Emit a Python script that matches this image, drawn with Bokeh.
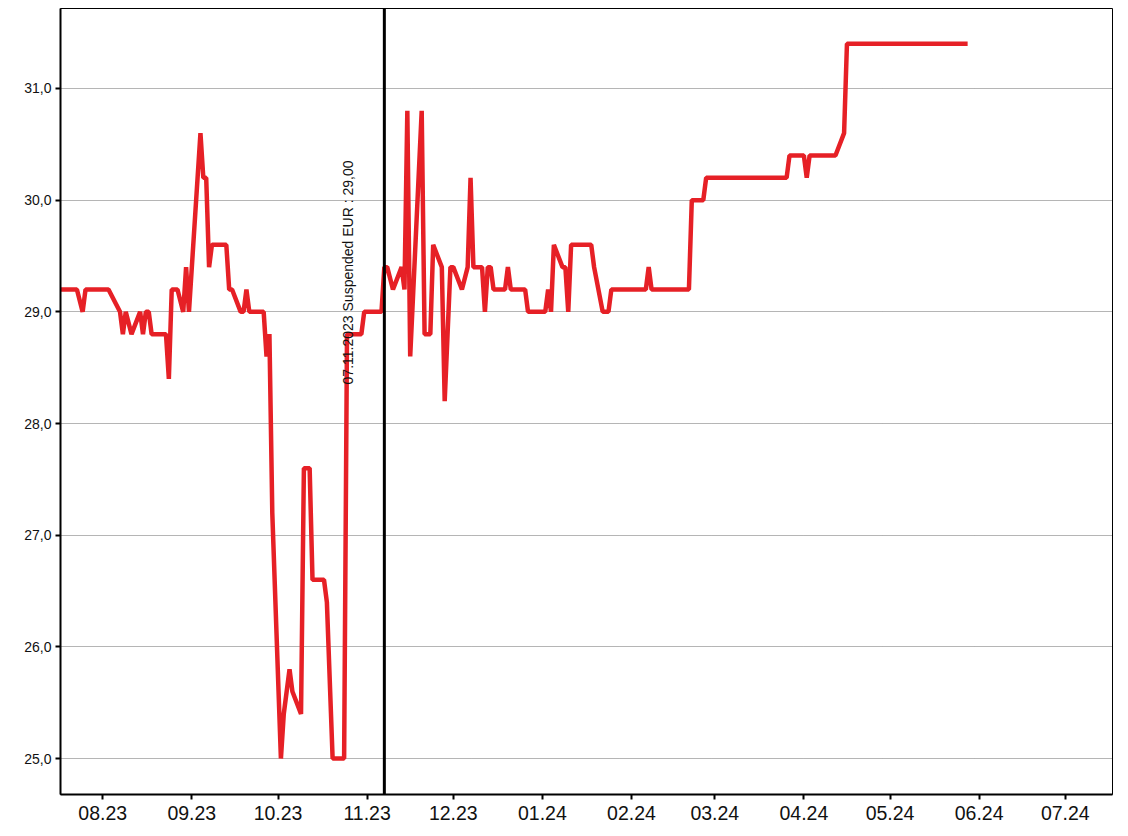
import math
import pandas as pd
from bokeh.plotting import figure
from bokeh.models import (Range1d, FixedTicker, Span, Label, DatetimeTickFormatter,
                          CustomJSTickFormatter, ColumnDataSource)
from bokeh.embed import file_html
from bokeh.resources import INLINE

# ---- data ----
dates = [
    "2023-07-17", "2023-07-23", "2023-07-25", "2023-07-26", "2023-08-03", "2023-08-07",
    "2023-08-08", "2023-08-09", "2023-08-11", "2023-08-14", "2023-08-15", "2023-08-16",
    "2023-08-17", "2023-08-18", "2023-08-23", "2023-08-24", "2023-08-25", "2023-08-27",
    "2023-08-29", "2023-08-30", "2023-08-31", "2023-09-04", "2023-09-05", "2023-09-06",
    "2023-09-07", "2023-09-08", "2023-09-13", "2023-09-14", "2023-09-15", "2023-09-18",
    "2023-09-19", "2023-09-20", "2023-09-21", "2023-09-26", "2023-09-27", "2023-09-28",
    "2023-09-29", "2023-10-02", "2023-10-03", "2023-10-05", "2023-10-06", "2023-10-09",
    "2023-10-10", "2023-10-12", "2023-10-13", "2023-10-17", "2023-10-18", "2023-10-20",
    "2023-10-24", "2023-10-25", "2023-10-30", "2023-10-31", "2023-11-06", "2023-11-07",
    "2023-11-08", "2023-11-10", "2023-11-13", "2023-11-14", "2023-11-15", "2023-11-16",
    "2023-11-20", "2023-11-21", "2023-11-23", "2023-11-24", "2023-11-27", "2023-11-28",
    "2023-11-30", "2023-12-01", "2023-12-04", "2023-12-06", "2023-12-07", "2023-12-08",
    "2023-12-11", "2023-12-12", "2023-12-13", "2023-12-14", "2023-12-15", "2023-12-19",
    "2023-12-20", "2023-12-21", "2023-12-26", "2023-12-27", "2024-01-02", "2024-01-03",
    "2024-01-04", "2024-01-05", "2024-01-08", "2024-01-09", "2024-01-10", "2024-01-11",
    "2024-01-18", "2024-01-19", "2024-01-22", "2024-01-24", "2024-01-25", "2024-02-06",
    "2024-02-07", "2024-02-08", "2024-02-21", "2024-02-22", "2024-02-26", "2024-02-27",
    "2024-03-26", "2024-03-27", "2024-04-01", "2024-04-02", "2024-04-03", "2024-04-12",
    "2024-04-15", "2024-04-16", "2024-05-28",
]
prices = [
    29.2, 29.2, 29.0, 29.2, 29.2, 29.0,
    28.8, 29.0, 28.8, 29.0, 28.8, 29.0,
    29.0, 28.8, 28.8, 28.4, 29.2, 29.2,
    29.0, 29.4, 29.0, 30.6, 30.2, 30.2,
    29.4, 29.6, 29.6, 29.2, 29.2, 29.0,
    29.0, 29.2, 29.0, 29.0, 28.6, 28.8,
    27.2, 25.0, 25.4, 25.8, 25.6, 25.4,
    27.6, 27.6, 26.6, 26.6, 26.4, 25.0,
    25.0, 28.8, 28.8, 29.0, 29.0, 29.4,
    29.4, 29.2, 29.4, 29.2, 30.8, 28.6,
    30.8, 28.8, 28.8, 29.6, 29.4, 28.2,
    29.4, 29.4, 29.2, 29.4, 30.2, 29.4,
    29.4, 29.0, 29.4, 29.4, 29.2, 29.2,
    29.4, 29.2, 29.2, 29.0, 29.0, 29.2,
    29.0, 29.6, 29.4, 29.4, 29.0, 29.6,
    29.6, 29.4, 29.0, 29.0, 29.2, 29.2,
    29.4, 29.2, 29.2, 30.0, 30.0, 30.2,
    30.2, 30.4, 30.4, 30.2, 30.4, 30.4,
    30.6, 31.4, 31.4,
]
y_ticks = [25, 26, 27, 28, 29, 30, 31]
month_ticks = ["2023-08-01", "2023-09-01", "2023-10-01", "2023-11-01", "2023-12-01",
               "2024-01-01", "2024-02-01", "2024-03-01", "2024-04-01", "2024-05-01",
               "2024-06-01", "2024-07-01"]
event_date = "2023-11-07"
event_text = "07.11.2023 Suspended EUR : 29,00"
x_start, x_end = "2023-07-17 07:00", "2024-07-17 10:00"
y_start, y_end = 24.678, 31.716


def ms(d):
    return pd.Timestamp(d).value // 10**6


source = ColumnDataSource(dict(date=pd.to_datetime(dates), price=prices))

p = figure(width=1120, height=828, x_axis_type="datetime",
           output_backend="svg", toolbar_location=None,
           x_range=Range1d(ms(x_start), ms(x_end)),
           y_range=Range1d(y_start, y_end),
           min_border_left=60, min_border_right=8, min_border_top=8,
           min_border_bottom=34)

p.background_fill_color = "white"
p.border_fill_color = "white"
p.outline_line_color = "black"
p.outline_line_width = 1

# grid
p.xgrid.visible = False
p.ygrid.grid_line_color = "#6a6a6a"
p.ygrid.grid_line_dash = "1 1"
p.ygrid.grid_line_width = 1

# axes
p.yaxis.ticker = FixedTicker(ticks=y_ticks)
p.yaxis.formatter = CustomJSTickFormatter(code="return tick.toFixed(1).replace('.', ',');")
p.xaxis.ticker = FixedTicker(ticks=[ms(d) for d in month_ticks])
fmt = "%m.%y"
p.xaxis.formatter = DatetimeTickFormatter(
    microseconds=fmt, milliseconds=fmt, seconds=fmt, minsec=fmt, minutes=fmt,
    hourmin=fmt, hours=fmt, days=fmt, months=fmt, years=fmt)

for ax in (p.xaxis[0], p.yaxis[0]):
    ax.axis_line_color = "black"
    ax.axis_line_width = 2
    ax.major_tick_line_color = "black"
    ax.major_tick_line_width = 2
    ax.major_tick_out = 5
    ax.major_tick_in = 0
    ax.minor_tick_line_color = None
    ax.major_label_text_font = "Liberation Sans"
    ax.major_label_text_color = "#111111"

p.yaxis.major_label_text_font_size = "14px"
p.yaxis.major_label_standoff = 4
p.xaxis.major_label_text_font_size = "19.5px"
p.xaxis.major_label_standoff = 6

# price line
p.line(x="date", y="price", source=source, line_color="#e62026", line_width=4.5)

# event marker
p.add_layout(Span(location=ms(event_date), dimension="height",
                  line_color="black", line_width=3))
p.add_layout(Label(x=ms(event_date), y=28.35, x_offset=-36, text=event_text,
                   angle=math.pi / 2, text_align="left", text_baseline="alphabetic",
                   text_font="Liberation Sans", text_font_size="14px",
                   text_color="#111111"))

open("out.html", "w").write(file_html(p, INLINE))
